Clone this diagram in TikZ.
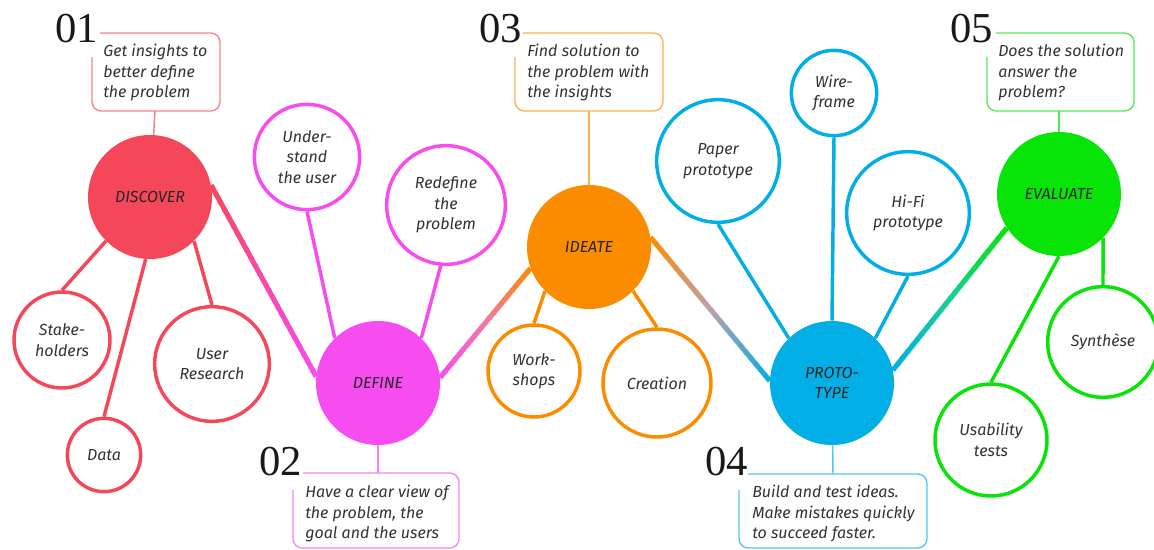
\documentclass[tikz,border=0pt]{standalone}
\usepackage{fontspec}
\newfontfamily\labelfont{Fira Sans}
\newfontfamily\numberfont{Liberation Serif}
\usepackage{tikz}
\usetikzlibrary{calc}

\definecolor{discover}{RGB}{244,72,90}
\definecolor{define}{RGB}{247,76,240}
\definecolor{ideate}{RGB}{251,140,0}
\definecolor{prototype}{RGB}{2,174,230}
\definecolor{evaluate}{RGB}{8,228,8}
\definecolor{midA}{RGB}{246,74,170}
\definecolor{midB}{RGB}{242,120,165}
\definecolor{midC}{RGB}{188,160,172}
\definecolor{midD}{RGB}{22,208,150}

\newcommand{\labeltext}{\labelfont\itshape\fontsize{12}{15.4}\selectfont}

\tikzset{
  hub/.style={circle, fill=#1, inner sep=0pt, minimum size=93pt, align=center, font=\labeltext, text=black!85},
  leaf/.style={circle, draw=#1, fill=white, line width=2.6pt, inner sep=0pt, align=center, font=\labeltext, text=black!80},
  spoke/.style={draw=#1, line width=2.6pt},
  note/.style={anchor=north west, inner sep=0pt, align=left, font=\labeltext, text=black!80},
  notebox/.style={draw=#1!70!white, line width=1pt, rounded corners=7pt},
  notelink/.style={draw=#1!70!white, line width=1.1pt},
  stepnum/.style={anchor=base east, inner sep=0pt, font=\numberfont\fontsize{32}{32}\selectfont, text=black!90},
}

% gradient link: from, to, start colour, middle colour, end colour
\newcommand{\phaselink}[5]{%
  \foreach \k in {1,...,24}{
    \pgfmathsetmacro\ta{(\k-1)/24}
    \pgfmathsetmacro\tb{min(1,(\k+0.3)/24)}
    \pgfmathsetmacro\pc{100-100*(\k-0.5)/12}
    \pgfmathsetmacro\pd{200-100*(\k-0.5)/12}
    \ifnum\k<13
      \draw[line width=3.8pt, #3!\pc!#4] ($(#1)!\ta!(#2)$) -- ($(#1)!\tb!(#2)$);
    \else
      \draw[line width=3.8pt, #4!\pd!#5] ($(#1)!\ta!(#2)$) -- ($(#1)!\tb!(#2)$);
    \fi
  }}

\begin{document}
\begin{tikzpicture}[x=0.75pt, y=-0.75pt]
  \useasboundingbox (0,0) rectangle (1154,550);

  \node[hub=discover] (disc) at (150,197) {DISCOVER};
  \node[hub=define] (def) at (378,383) {DEFINE};
  \node[hub=ideate] (idea) at (589,247) {IDEATE};
  \node[hub=prototype] (proto) at (832,383) {PROTO-\\TYPE};
  \node[hub=evaluate] (eval) at (1059,194) {EVALUATE};

  \phaselink{disc.11}{def.174}{discover}{midA}{define}
  \phaselink{def.5}{idea.200}{define}{midB}{ideate}
  \phaselink{idea.9}{proto.178}{ideate}{midC}{prototype}
  \phaselink{proto.12}{eval.213}{prototype}{midD}{evaluate}

  \node[leaf=discover, minimum size=72pt] (stake) at (62,340) {Stake-\\holders};
  \node[leaf=discover, minimum size=55pt] (data) at (104,455) {Data};
  \node[leaf=discover, minimum size=86pt] (usrres) at (212,364) {User\\Research};
  \draw[spoke=discover] (disc.225) -- (stake.north);
  \draw[spoke=discover] (disc.266) -- (data.north);
  \draw[spoke=discover] (disc.315) -- (usrres.north);

  \node[leaf=define, minimum size=79pt] (under) at (307,157) {Under-\\stand\\the user};
  \node[leaf=define, minimum size=89pt] (redef) at (446,205) {Redefine\\the\\problem};
  \draw[spoke=define] (under.south) -- (def.134);
  \draw[spoke=define] (redef.265) -- (def.46);

  \node[leaf=ideate, minimum size=69pt] (works) at (534,371) {Work-\\shops};
  \node[leaf=ideate, minimum size=81pt] (creat) at (657,383) {Creation};
  \draw[spoke=ideate] (idea.225) -- (works.north);
  \draw[spoke=ideate] (idea.315) -- (creat.north);

  \node[leaf=prototype, minimum size=92pt] (paper) at (718,161) {Paper\\prototype};
  \node[leaf=prototype, minimum size=64pt] (wire) at (834,93) {Wire-\\frame};
  \node[leaf=prototype, minimum size=92pt] (hifi) at (908,213) {Hi-Fi\\prototype};
  \draw[spoke=prototype] (paper.south) -- (proto.134);
  \draw[spoke=prototype] (wire.south) -- (proto.north);
  \draw[spoke=prototype] (hifi.south) -- (proto.46);

  \node[leaf=evaluate, minimum size=84pt] (usab) at (991,440) {Usability\\tests};
  \node[leaf=evaluate, minimum size=83pt] (synth) at (1103,342) {Synthèse};
  \draw[spoke=evaluate] (eval.south) -- (usab.north);
  \draw[spoke=evaluate] (eval.315) -- (synth.north);

  \draw[notebox=discover] (92,57) -- (92,111) -- (220,111) -- (220,33) -- (100,33);
  \node[stepnum] (n1) at (98,42) {01};
  \node[note] (t1) at (103,44) {Get insights to\\better define\\the problem};
  \coordinate (c1) at (155,111);
  \draw[notelink=discover] (c1) -- (disc);

  \draw[notebox=define] (293,490) -- (293,548) -- (459,548) -- (459,473) -- (303,473);
  \node[stepnum] (n2) at (302,475) {02};
  \node[note] (t2) at (305,485) {Have a clear view of\\the problem, the\\goal and the users};
  \coordinate (c2) at (378,473);
  \draw[notelink=define] (c2) -- (def);

  \draw[notebox=ideate] (515,57) -- (515,111) -- (663,111) -- (663,33) -- (523,33);
  \node[stepnum] (n3) at (522,42) {03};
  \node[note] (t3) at (527,44) {Find solution to\\the problem with\\the insights};
  \coordinate (c3) at (589,111);
  \draw[notelink=ideate] (c3) -- (idea);

  \draw[notebox=prototype] (739,490) -- (739,548) -- (927,548) -- (927,474) -- (748,474);
  \node[stepnum] (n4) at (748,475) {04};
  \node[note] (t4) at (752,485) {Build and test ideas.\\Make mistakes quickly\\to succeed faster.};
  \coordinate (c4) at (833,474);
  \draw[notelink=prototype] (c4) -- (proto);

  \draw[notebox=evaluate] (987,57) -- (987,111) -- (1134,111) -- (1134,33) -- (996,33);
  \node[stepnum] (n5) at (993,42) {05};
  \node[note] (t5) at (998,44) {Does the solution\\answer the\\problem?};
  \coordinate (c5) at (1059,111);
  \draw[notelink=evaluate] (c5) -- (eval);
\end{tikzpicture}
\end{document}
